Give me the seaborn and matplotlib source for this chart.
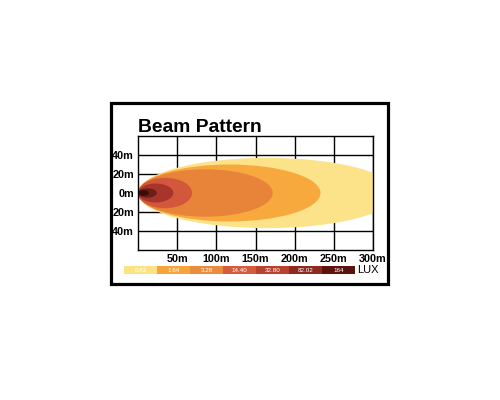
"""
plot.py

Beam pattern chart for a driving light: nested light zones drawn as
ellipses over a distance grid, with a LUX colour key underneath.
"""

import matplotlib

matplotlib.use("Agg")
import matplotlib.pyplot as plt
from matplotlib.patches import Ellipse, Rectangle
import seaborn as sns

# light zones, outermost first (reach along the beam, half width across it)
zone_reach = [330, 233, 172, 69, 45, 24, 14]
zone_half_width = [37, 30, 25, 16, 10, 5, 3]
zone_colors = ["#FCE38A", "#F7A93D", "#E8843A", "#D2573B", "#A8352B", "#6B1F16", "#3A0D08"]

x_ticks = [50, 100, 150, 200, 250, 300]
x_tick_labels = ["50m", "100m", "150m", "200m", "250m", "300m"]
y_ticks = [40, 20, 0, -20, -40]
y_tick_labels = ["40m", "20m", "0m", "20m", "40m"]

lux_labels = ["0.82", "1.64", "3.28", "14.40", "32.80", "82.02", "164"]
lux_colors = ["#FBE383", "#F5A53C", "#EA8C3E", "#D55B3D", "#B8412F", "#8E2A20", "#5C130E"]


def main():
    sns.set_theme(style="white")
    plt.rcParams["font.family"] = ["Liberation Sans", "DejaVu Sans"]
    plt.rcParams["text.color"] = "black"

    fig = plt.figure(figsize=(5, 4), dpi=100)
    fig.patch.set_facecolor("white")

    # outer black frame
    fig.add_artist(
        Rectangle(
            (0.222, 0.29), 0.554, 0.4525, transform=fig.transFigure,
            fill=False, edgecolor="black", linewidth=2.3,
        )
    )

    ax = fig.add_axes([0.276, 0.375, 0.47, 0.285])
    ax.set_xlim(0, 300)
    ax.set_ylim(-60, 60)
    ax.set_xticks(x_ticks)
    ax.set_xticklabels(x_tick_labels, fontsize=7.8, fontweight="bold")
    ax.set_yticks(y_ticks)
    ax.set_yticklabels(y_tick_labels, fontsize=7.8, fontweight="bold")
    ax.tick_params(length=0, pad=3, colors="black")
    ax.grid(True, color="black", linewidth=1.0, zorder=0)
    ax.set_axisbelow(True)
    for spine in ax.spines.values():
        spine.set_color("black")
        spine.set_linewidth(1.0)

    for reach, half, color in zip(zone_reach, zone_half_width, zone_colors):
        ax.add_patch(
            Ellipse((reach / 2, 0), reach, 2 * half, facecolor=color,
                    edgecolor="none", zorder=2)
        )

    fig.text(0.276, 0.67, "Beam Pattern", fontsize=13.9, fontweight="bold",
             ha="left", va="baseline")

    # LUX colour key
    ax_leg = fig.add_axes([0.248, 0.315, 0.462, 0.02])
    ax_leg.bar(range(len(lux_labels)), [1] * len(lux_labels), width=1.0,
               color=lux_colors, edgecolor="none")
    for i, lab in enumerate(lux_labels):
        ax_leg.text(i, 0.5, lab, color="white", fontsize=4.5,
                    ha="center", va="center")
    ax_leg.set_xlim(-0.5, len(lux_labels) - 0.5)
    ax_leg.set_ylim(0, 1)
    ax_leg.axis("off")
    fig.text(0.714, 0.325, "LUX", fontsize=8, ha="left", va="center")

    plt.savefig("out.png", dpi=100)
    plt.close()


if __name__ == "__main__":
    main()
